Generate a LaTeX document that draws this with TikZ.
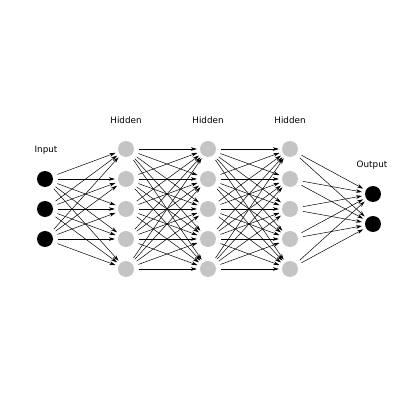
\documentclass[tikz,border=0pt]{standalone}
\usepackage{fontspec}
\setmainfont{DejaVu Sans}
\usetikzlibrary{arrows.meta}
\begin{document}
\begin{tikzpicture}[x=1pt,y=1pt,
  neuron/.style={circle,minimum size=16pt,inner sep=0pt},
  inp/.style={neuron,fill=black},
  hid/.style={neuron,fill=black!23},
  edge/.style={-{Stealth[length=6pt,width=3.6pt]},line width=0.5pt,shorten <=5pt,shorten >=3pt},
  lbl/.style={font=\fontsize{8.8}{10}\selectfont}]
\useasboundingbox (0,0) rectangle (400,400);
\foreach \i/\y in {1/179,2/209,3/239} \node[inp] (I\i) at (45,400-\y) {};
\foreach \l/\x in {1/126,2/208,3/290}
  \foreach \i/\y in {1/149,2/179,3/209,4/239,5/269} \node[hid] (H\l\i) at (\x,400-\y) {};
\foreach \i/\y in {1/194,2/224} \node[inp] (O\i) at (373,400-\y) {};
\node[lbl] (tI) at (46,400-150) {Input};
\node[lbl] (t1) at (126,400-120) {Hidden};
\node[lbl] (t2) at (208,400-120) {Hidden};
\node[lbl] (t3) at (290,400-120) {Hidden};
\node[lbl] (tO) at (372,400-165) {Output};
\foreach \a in {1,2,3} \foreach \b in {1,...,5} \draw[edge] (I\a) -- (H1\b);
\foreach \a in {1,...,5} \foreach \b in {1,...,5} {\draw[edge] (H1\a) -- (H2\b); \draw[edge] (H2\a) -- (H3\b);}
\foreach \a in {1,...,5} \foreach \b in {1,2} \draw[edge] (H3\a) -- (O\b);
\end{tikzpicture}
\end{document}
